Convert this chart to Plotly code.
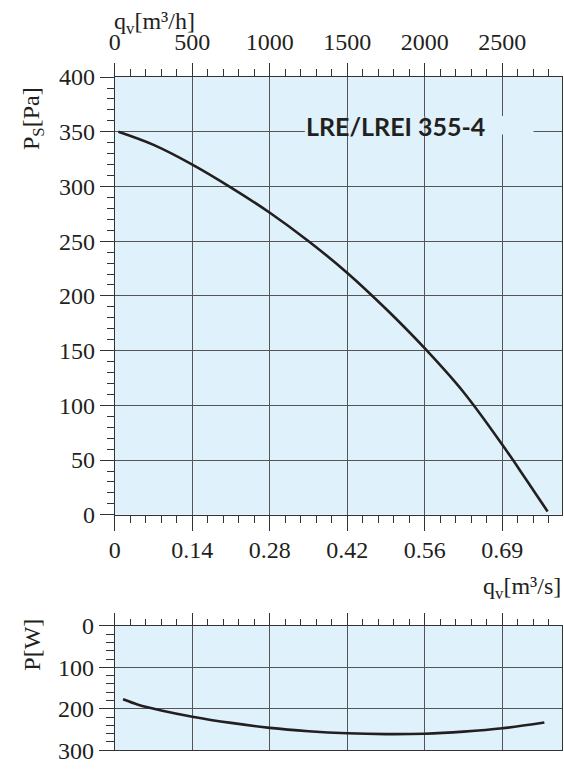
import plotly.graph_objects as go

# Fan curve data, airflow in m³/h (both panels share the same flow axis)
pressure_flow = [23, 250, 500, 750, 1000, 1250, 1500, 1750, 2000, 2250, 2500, 2650, 2792]
pressure_pa = [350, 338, 320, 299, 276, 250, 221, 188, 152, 112, 64, 33, 3]

power_flow = [53, 150, 300, 500, 750, 1000, 1250, 1500, 1750, 2000, 2250, 2500, 2771]
power_w = [177, 190, 204, 219, 234, 246, 254, 259, 261, 260, 255, 247, 233]

flow_ticks = [0, 500, 1000, 1500, 2000, 2500]
flow_labels_m3h = ["0", "500", "1000", "1500", "2000", "2500"]
flow_labels_m3s = ["0", "0.14", "0.28", "0.42", "0.56", "0.69"]
pressure_ticks = [0, 50, 100, 150, 200, 250, 300, 350, 400]
power_ticks = [0, 100, 200, 300]

model_label = "LRE/LREI 355-4"

W, H = 564, 771
BG = "#dff1fa"
INK = "#231f20"
GRID = "#555555"
AXIS = "#333333"
SERIF = "Liberation Serif"
TICKFONT = dict(family=SERIF, size=24, color=INK)

FLOW_RANGE = [0, 2885]
x_dom = [110 / W, 562 / W]
y_dom_top = [1 - 519.3 / H, 1 - 66.3 / H]
y_dom_bot = [1 - 763 / H, 1 - 634.3 / H]


def px_x(px):
    return px / W


def px_y(py):
    return 1 - py / H


fig = go.Figure()

fig.add_trace(go.Scatter(
    x=pressure_flow, y=pressure_pa, mode="lines", line_shape="spline",
    line=dict(color=INK, width=2.6, smoothing=1.0), xaxis="x", yaxis="y",
    hoverinfo="skip",
))
# invisible trace so the top m³/h axis is laid out
fig.add_trace(go.Scatter(
    x=[FLOW_RANGE[0]], y=[0], mode="markers", marker=dict(opacity=0),
    xaxis="x2", yaxis="y", hoverinfo="skip",
))
fig.add_trace(go.Scatter(
    x=power_flow, y=power_w, mode="lines", line_shape="spline",
    line=dict(color=INK, width=2.6, smoothing=0.8), xaxis="x3", yaxis="y2",
    hoverinfo="skip",
))

common_x = dict(
    range=FLOW_RANGE, tickmode="array", tickvals=flow_ticks,
    ticks="outside", tickcolor=AXIS, tickwidth=1,
    showline=True, linecolor=AXIS, linewidth=1.2,
    zeroline=False, tickfont=TICKFONT, fixedrange=True,
)

fig.update_layout(
    width=W, height=H,
    margin=dict(l=0, r=0, t=0, b=0),
    paper_bgcolor="white", plot_bgcolor=BG,
    showlegend=False,
    xaxis=dict(
        **common_x, domain=x_dom, anchor="y", side="bottom",
        ticktext=flow_labels_m3s, ticklen=15, ticklabelstandoff=-2,
        minor=dict(tick0=0, dtick=100, ticks="outside", ticklen=7,
                   tickcolor=AXIS, showgrid=False),
        showgrid=True, gridcolor=GRID, gridwidth=1,
    ),
    xaxis2=dict(
        **common_x, overlaying="x", anchor="y", side="top",
        ticktext=flow_labels_m3h, ticklen=13, ticklabelstandoff=3,
        minor=dict(tick0=0, dtick=100, ticks="outside", ticklen=7,
                   tickcolor=AXIS, showgrid=False),
        showgrid=False,
    ),
    yaxis=dict(
        domain=y_dom_top, anchor="x", range=[0, 400],
        tickmode="array", tickvals=pressure_ticks,
        ticks="outside", ticklen=14, tickcolor=AXIS,
        minor=dict(tick0=0, dtick=10, ticks="outside", ticklen=7,
                   tickcolor=AXIS, showgrid=False),
        showgrid=True, gridcolor=GRID, gridwidth=1,
        showline=True, linecolor=AXIS, linewidth=1.2, mirror=True,
        zeroline=False, tickfont=TICKFONT, fixedrange=True,
    ),
    xaxis3=dict(
        **common_x, domain=x_dom, anchor="y2", side="top",
        ticktext=flow_labels_m3h, showticklabels=False, ticklen=12,
        mirror=True,
        minor=dict(tick0=0, dtick=100, ticks="outside", ticklen=6,
                   tickcolor=AXIS, showgrid=False),
        showgrid=True, gridcolor=GRID, gridwidth=1,
    ),
    yaxis2=dict(
        domain=y_dom_bot, anchor="x3", range=[300, 0],
        tickmode="array", tickvals=power_ticks,
        ticks="outside", ticklen=15, tickcolor=AXIS,
        minor=dict(tick0=0, dtick=20, ticks="outside", ticklen=8,
                   tickcolor=AXIS, showgrid=False),
        showgrid=True, gridcolor=GRID, gridwidth=1,
        showline=True, linecolor=AXIS, linewidth=1.2, mirror=True,
        zeroline=False, tickfont=TICKFONT, fixedrange=True,
    ),
)

# Backing panel behind the model name (hides part of the grid)
fig.add_shape(type="rect", xref="x", yref="y", layer="between",
              x0=1226, x1=2701, y0=347.5, y1=364.5,
              fillcolor=BG, line=dict(width=0))
for gx in (1500, 2000):
    fig.add_shape(type="line", xref="x", yref="y", layer="between",
                  x0=gx, x1=gx, y0=347.5, y1=364.5,
                  line=dict(color=GRID, width=1))

fig.add_annotation(
    text=f"<b>{model_label}</b>", xref="paper", yref="paper",
    x=px_x(301), y=px_y(117), xanchor="left", yanchor="middle",
    showarrow=False, font=dict(family="Lato", size=25, color=INK),
)

title_font = dict(family=SERIF, size=24, color=INK)
fig.add_annotation(
    text="q<sub>v</sub>[m³/h]", xref="paper", yref="paper",
    x=px_x(150), y=px_y(10), xanchor="center", yanchor="middle",
    showarrow=False, font=title_font,
)
fig.add_annotation(
    text="P<sub>S</sub>[Pa]", xref="paper", yref="paper", textangle=-90,
    x=px_x(28), y=px_y(109), xanchor="center", yanchor="middle",
    showarrow=False, font=title_font,
)
fig.add_annotation(
    text="q<sub>v</sub>[m³/s]", xref="paper", yref="paper",
    x=px_x(563), y=px_y(595), xanchor="right", yanchor="middle",
    showarrow=False, font=title_font,
)
fig.add_annotation(
    text="P[W]", xref="paper", yref="paper", textangle=-90,
    x=px_x(26), y=px_y(654), xanchor="center", yanchor="middle",
    showarrow=False, font=title_font,
)

fig.write_html("out.html")
